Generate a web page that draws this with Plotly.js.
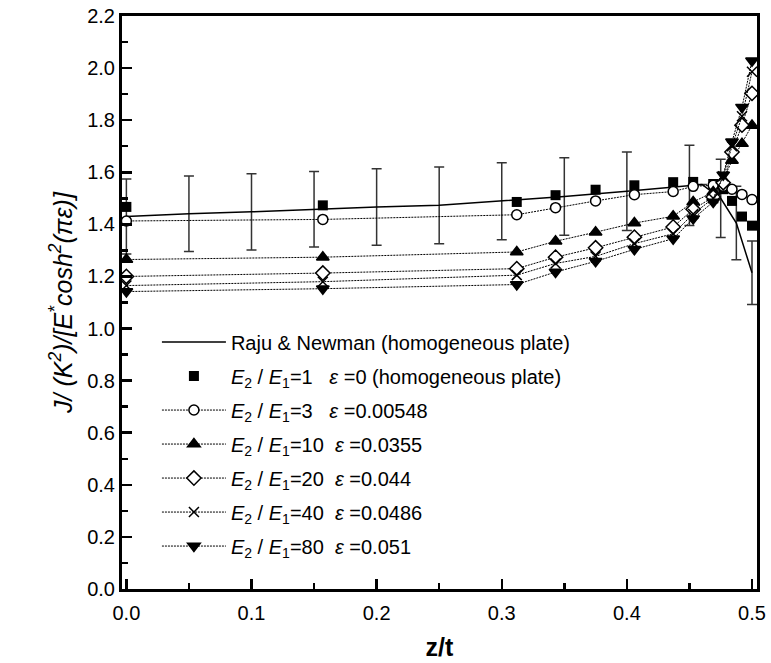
<!DOCTYPE html>
<html>
<head>
<meta charset="utf-8">
<script src="https://cdn.plot.ly/plotly-3.0.1.min.js"></script>
<style>body{margin:0;background:#fff}#chart{width:771px;height:663px}</style>
</head>
<body>
<div id="chart"></div>
<script>
// Raju & Newman reference curve (with ±error bars)
const rajuX = [0, 0.05, 0.1, 0.15, 0.2, 0.25, 0.3, 0.35, 0.4, 0.45, 0.46, 0.475, 0.4875, 0.5];
const rajuY = [1.430, 1.441, 1.448, 1.458, 1.467, 1.473, 1.489, 1.507, 1.527, 1.550, 1.553, 1.500, 1.405, 1.214];
const rajuErr = [0.144, 0.145, 0.146, 0.145, 0.147, 0.147, 0.148, 0.149, 0.151, 0.154, 0, 0.150, 0.141, 0.122];

// FEM results, positions along the crack front
const zt = [0, 0.157, 0.312, 0.343, 0.375, 0.406, 0.437, 0.453, 0.469, 0.477, 0.484, 0.492, 0.5];
const ratio1  = [1.467, 1.473, 1.486, 1.512, 1.533, 1.550, 1.562, 1.563, 1.555, 1.535, 1.490, 1.430, 1.395];
const ratio3  = [1.413, 1.419, 1.437, 1.464, 1.490, 1.514, 1.526, 1.546, 1.550, 1.546, 1.535, 1.515, 1.495];
const ratio10 = [1.265, 1.274, 1.294, 1.335, 1.370, 1.405, 1.431, 1.486, 1.524, 1.570, 1.645, 1.710, 1.780];
const ratio20 = [1.200, 1.213, 1.230, 1.274, 1.310, 1.351, 1.390, 1.458, 1.505, 1.560, 1.678, 1.781, 1.903];
const ratio40 = [1.165, 1.180, 1.205, 1.250, 1.277, 1.326, 1.364, 1.440, 1.500, 1.585, 1.700, 1.815, 1.986];
const ratio80 = [1.142, 1.153, 1.169, 1.217, 1.258, 1.304, 1.345, 1.422, 1.486, 1.590, 1.717, 1.850, 2.028];

const names = [
  'Raju & Newman (homogeneous plate)',
  '<i>E</i><sub>2</sub> / <i>E</i><sub>1</sub>=1\u00a0\u00a0\u00a0<i>ε</i> =0 (homogeneous plate)',
  '<i>E</i><sub>2</sub> / <i>E</i><sub>1</sub>=3\u00a0\u00a0\u00a0<i>ε</i> =0.00548',
  '<i>E</i><sub>2</sub> / <i>E</i><sub>1</sub>=10\u00a0\u00a0<i>ε</i> =0.0355',
  '<i>E</i><sub>2</sub> / <i>E</i><sub>1</sub>=20\u00a0\u00a0<i>ε</i> =0.044',
  '<i>E</i><sub>2</sub> / <i>E</i><sub>1</sub>=40\u00a0\u00a0<i>ε</i> =0.0486',
  '<i>E</i><sub>2</sub> / <i>E</i><sub>1</sub>=80\u00a0\u00a0<i>ε</i> =0.051'
];

const dotLine = {color: '#000', width: 1, dash: '2px,1px'};
function series(y, name, symbol, size, fill, grp) {
  return {
    x: zt, y: y, name: name, type: 'scatter', mode: 'lines+markers', legendgroup: grp,
    line: dotLine,
    marker: {symbol: symbol, size: size, color: fill, line: {color: '#000', width: 1.5}}
  };
}

const traces = [
  {x: rajuX, y: rajuY, name: names[0], type: 'scatter', mode: 'lines', legendgroup: 'g0',
   line: {color: '#000', width: 1.5},
   error_y: {type: 'data', array: rajuErr, visible: true, color: '#333', thickness: 1.5, width: 5}},
  {x: zt, y: ratio1, name: names[1], type: 'scatter', mode: 'markers', legendgroup: 'g1',
   marker: {symbol: 'square', size: 10, color: '#000'}},
  series(ratio3, names[2], 'circle', 10, '#fff', 'g2'),
  series(ratio10, names[3], 'triangle-up', 11, '#000', 'g3'),
  series(ratio20, names[4], 'diamond', 11, '#fff', 'g4'),
  series(ratio40, names[5], 'x-thin-open', 10, '#000', 'g5'),
  series(ratio80, names[6], 'triangle-down', 11, '#000', 'g6')
];

const fontFam = '"Liberation Sans", Arial, Helvetica, sans-serif';
const layout = {
  width: 771, height: 663,
  margin: {l: 122, r: 14, t: 16, b: 74},
  paper_bgcolor: '#fff', plot_bgcolor: '#fff',
  font: {family: fontFam, size: 20, color: '#000'},
  showlegend: true,
  legend: {x: 0.055, y: 0.465, xanchor: 'left', yanchor: 'top', bgcolor: 'rgba(0,0,0,0)',
           font: {size: 20, family: fontFam}, itemwidth: 64, tracegroupgap: 5},
  xaxis: {
    range: [-0.0035, 0.504], tickvals: [0, 0.1, 0.2, 0.3, 0.4, 0.5],
    ticktext: ['0.0', '0.1', '0.2', '0.3', '0.4', '0.5'],
    ticks: 'inside', ticklen: 10, tickwidth: 2.5, tickcolor: '#000',
    minor: {tickvals: [0.05, 0.15, 0.25, 0.35, 0.45], ticks: 'inside', ticklen: 6, tickwidth: 2.5, tickcolor: '#000'},
    showline: true, linewidth: 3, linecolor: '#000', mirror: true,
    showgrid: false, zeroline: false,
    tickfont: {size: 20}, ticklabelstandoff: 4,
    title: {text: '<b>z/t</b>', font: {size: 25}, standoff: 16}
  },
  yaxis: {
    range: [0, 2.2], tickvals: [0, 0.2, 0.4, 0.6, 0.8, 1.0, 1.2, 1.4, 1.6, 1.8, 2.0, 2.2],
    ticktext: ['0.0', '0.2', '0.4', '0.6', '0.8', '1.0', '1.2', '1.4', '1.6', '1.8', '2.0', '2.2'],
    ticks: 'inside', ticklen: 10, tickwidth: 2.5, tickcolor: '#000',
    minor: {tickvals: [0.1, 0.3, 0.5, 0.7, 0.9, 1.1, 1.3, 1.5, 1.7, 1.9, 2.1], ticks: 'inside', ticklen: 6, tickwidth: 2.5, tickcolor: '#000'},
    showline: true, linewidth: 3, linecolor: '#000', mirror: true,
    showgrid: false, zeroline: false,
    tickfont: {size: 20},
    title: {text: '<i>J/ (K<sup>2</sup>)/[E<sup>*</sup>cosh<sup>2</sup>(πε)]</i>', font: {size: 25}, standoff: 8}
  }
};

Plotly.newPlot('chart', traces, layout, {displayModeBar: false, staticPlot: true});
</script>
</body>
</html>
